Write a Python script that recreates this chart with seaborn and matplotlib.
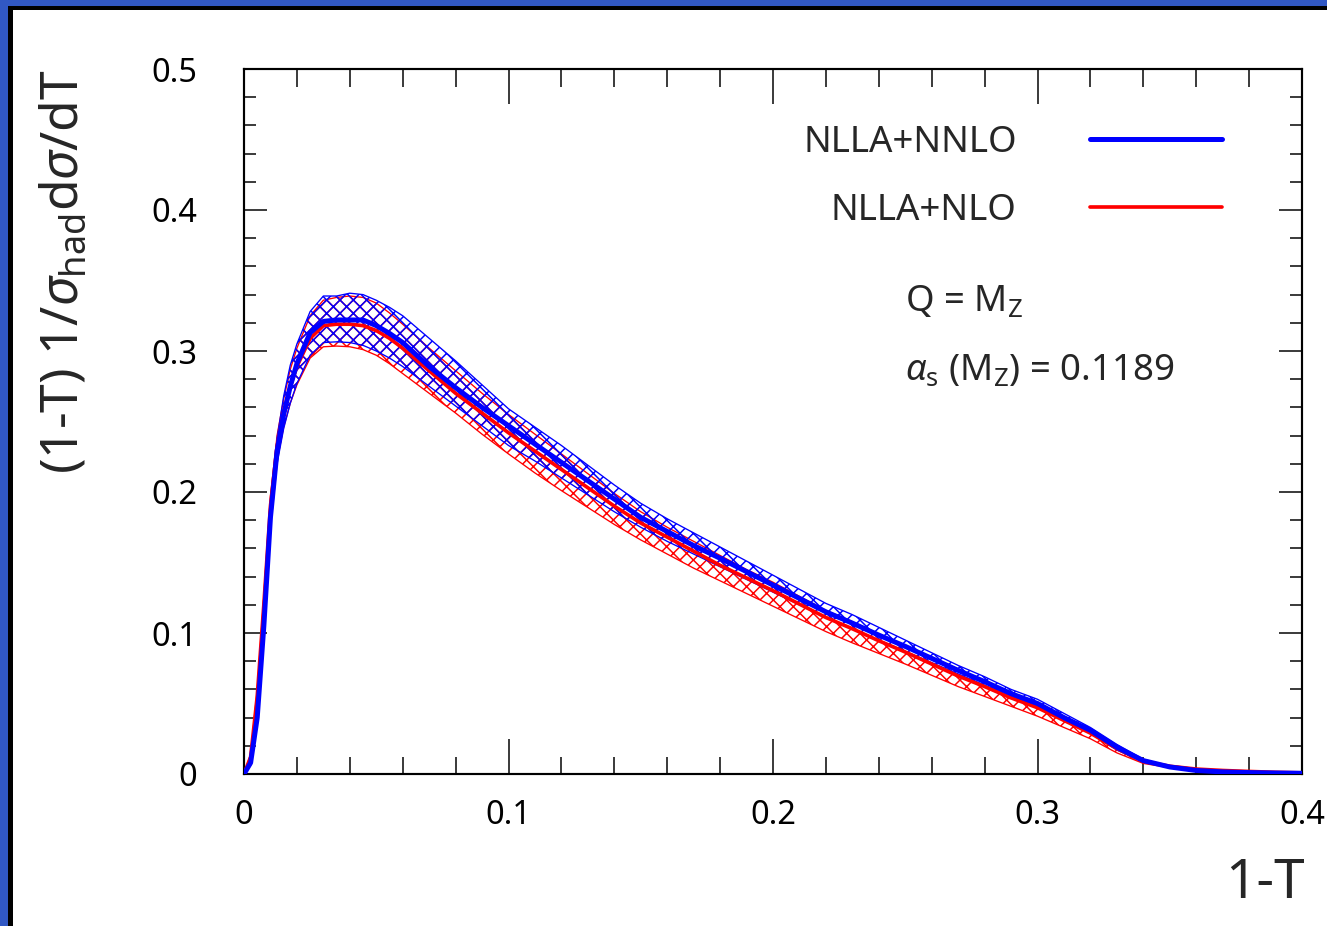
import numpy as np
import pandas as pd
import matplotlib
matplotlib.use("Agg")
import matplotlib.pyplot as plt
from matplotlib.patches import Rectangle
from matplotlib.ticker import MultipleLocator, FixedLocator, FixedFormatter
import seaborn as sns

# ---- thrust distribution, (1-T) weighted -------------------------------
tau = [0, 0.0025, 0.005, 0.0075, 0.01, 0.0125, 0.015, 0.0175, 0.02, 0.025,
       0.03, 0.035, 0.04, 0.045, 0.05, 0.055, 0.06, 0.07, 0.08, 0.09,
       0.10, 0.11, 0.12, 0.13, 0.14, 0.15, 0.16, 0.17, 0.18, 0.19,
       0.20, 0.21, 0.22, 0.23, 0.24, 0.25, 0.26, 0.27, 0.28, 0.29,
       0.30, 0.31, 0.32, 0.33, 0.34, 0.35, 0.36, 0.37, 0.38, 0.39, 0.40]

# NLLA+NNLO central value and scale-variation band
nnlo = [0, 0.008, 0.040, 0.105, 0.182, 0.229, 0.255, 0.275, 0.291, 0.313,
        0.321, 0.322, 0.322, 0.322, 0.318, 0.3125, 0.306, 0.289, 0.274, 0.260,
        0.247, 0.234, 0.221, 0.208, 0.195, 0.182, 0.172, 0.162, 0.153, 0.1435,
        0.134, 0.1245, 0.115, 0.107, 0.0985, 0.0905, 0.082, 0.0735, 0.0655, 0.057,
        0.050, 0.040, 0.031, 0.019, 0.0095, 0.005, 0.0025, 0.0015, 0.001, 0.0007, 0.0005]
nnlo_hi = [0, 0.010, 0.045, 0.112, 0.190, 0.238, 0.268, 0.290, 0.305, 0.328,
           0.339, 0.339, 0.341, 0.340, 0.336, 0.331, 0.325, 0.309, 0.293, 0.276,
           0.259, 0.246, 0.233, 0.219, 0.205, 0.192, 0.181, 0.171, 0.161, 0.151,
           0.141, 0.131, 0.121, 0.113, 0.104, 0.095, 0.086, 0.077, 0.069, 0.060,
           0.053, 0.043, 0.033, 0.021, 0.0105, 0.0055, 0.003, 0.0017, 0.0011, 0.0008, 0.0006]
nnlo_lo = [0, 0.006, 0.035, 0.098, 0.174, 0.220, 0.245, 0.263, 0.277, 0.297,
           0.306, 0.3065, 0.306, 0.304, 0.300, 0.295, 0.289, 0.275, 0.261, 0.247,
           0.233, 0.222, 0.210, 0.198, 0.186, 0.175, 0.165, 0.156, 0.147, 0.138,
           0.129, 0.120, 0.111, 0.103, 0.095, 0.087, 0.079, 0.071, 0.063, 0.055,
           0.048, 0.038, 0.029, 0.017, 0.0085, 0.0045, 0.0022, 0.0013, 0.0009, 0.0006, 0.0004]

# NLLA+NLO central value and scale-variation band
nlo = [0, 0.012, 0.055, 0.120, 0.190, 0.232, 0.257, 0.275, 0.289, 0.309,
       0.318, 0.319, 0.319, 0.318, 0.3145, 0.309, 0.302, 0.286, 0.270, 0.256,
       0.242, 0.229, 0.216, 0.203, 0.190, 0.178, 0.168, 0.158, 0.148, 0.139,
       0.130, 0.1205, 0.111, 0.103, 0.0945, 0.0865, 0.078, 0.0695, 0.062, 0.054,
       0.047, 0.038, 0.029, 0.018, 0.009, 0.0055, 0.0035, 0.0025, 0.0018, 0.0012, 0.0008]
nlo_hi = [0, 0.014, 0.060, 0.126, 0.197, 0.240, 0.266, 0.287, 0.302, 0.325,
          0.336, 0.338, 0.339, 0.338, 0.334, 0.327, 0.319, 0.302, 0.286, 0.270,
          0.255, 0.241, 0.227, 0.213, 0.199, 0.186, 0.175, 0.165, 0.155, 0.145,
          0.136, 0.126, 0.116, 0.108, 0.099, 0.0905, 0.082, 0.073, 0.065, 0.057,
          0.0495, 0.040, 0.031, 0.0195, 0.0098, 0.006, 0.0038, 0.0027, 0.002, 0.0013, 0.0009]
nlo_lo = [0, 0.010, 0.050, 0.113, 0.181, 0.222, 0.246, 0.263, 0.276, 0.295,
          0.303, 0.3035, 0.303, 0.301, 0.297, 0.291, 0.284, 0.270, 0.256, 0.241,
          0.227, 0.2135, 0.201, 0.189, 0.177, 0.166, 0.156, 0.146, 0.137, 0.128,
          0.119, 0.110, 0.101, 0.093, 0.0855, 0.078, 0.070, 0.062, 0.055, 0.048,
          0.041, 0.033, 0.025, 0.015, 0.0075, 0.0045, 0.003, 0.0022, 0.0016, 0.001, 0.0007]

series_labels = ["NLLA+NNLO", "NLLA+NLO"]
x_ticks = [0, 0.1, 0.2, 0.3, 0.4]
x_ticklabels = ["0", "0.1", "0.2", "0.3", "0.4"]
y_ticks = [0, 0.1, 0.2, 0.3, 0.4, 0.5]
y_ticklabels = ["0", "0.1", "0.2", "0.3", "0.4", "0.5"]

df = pd.DataFrame({"tau": tau, "nnlo": nnlo, "nlo": nlo})

# ---- style -------------------------------------------------------------
sns.set_theme(style="ticks")
plt.rcParams["font.family"] = ["Noto Sans", "DejaVu Sans"]
plt.rcParams["mathtext.fontset"] = "custom"
plt.rcParams["mathtext.rm"] = "Noto Sans"
plt.rcParams["mathtext.it"] = "Noto Sans:italic"
plt.rcParams["mathtext.sf"] = "Noto Sans"
plt.rcParams["hatch.linewidth"] = 0.9

DPI = 120
W, H = 1327, 926
fig = plt.figure(figsize=(W / DPI, H / DPI), dpi=DPI, facecolor="white")

# outer frame: blue border, black rule, white canvas
def px_rect(x0, y0, x1, y1, color, z):
    fig.add_artist(Rectangle((x0 / W, 1 - y1 / H), (x1 - x0) / W, (y1 - y0) / H,
                             transform=fig.transFigure, facecolor=color,
                             edgecolor="none", zorder=z))

px_rect(0, 0, W + 5, H + 5, "#3158c4", -10)
px_rect(8.3, 5.7, W + 5, H + 5, "black", -9)
px_rect(12.7, 9.6, W + 5, H + 5, "white", -8)

ax = fig.add_axes([244 / W, 1 - 774 / H, (1302 - 244) / W, (774 - 69) / H])
ax.set_facecolor("white")

blue = "#0000ff"
red = "#ff0000"

# uncertainty bands (cross-hatched)
ax.fill_between(tau, nlo_lo, nlo_hi, facecolor="none", edgecolor=red,
                hatch="xxx", linewidth=0.8, zorder=2)
ax.fill_between(tau, nnlo_lo, nnlo_hi, facecolor="none", edgecolor=blue,
                hatch="xxx", linewidth=0.8, zorder=3)

# central predictions
sns.lineplot(data=df, x="tau", y="nlo", color=red, linewidth=2.2,
             sort=False, estimator=None, ax=ax, zorder=4, label=series_labels[1])
sns.lineplot(data=df, x="tau", y="nnlo", color=blue, linewidth=3.0,
             sort=False, estimator=None, ax=ax, zorder=5, label=series_labels[0])

ax.set_xlim(0, 0.4)
ax.set_ylim(0, 0.5)

ax.xaxis.set_major_locator(FixedLocator(x_ticks))
ax.xaxis.set_major_formatter(FixedFormatter(x_ticklabels))
ax.yaxis.set_major_locator(FixedLocator(y_ticks))
ax.yaxis.set_major_formatter(FixedFormatter(y_ticklabels))
ax.xaxis.set_minor_locator(MultipleLocator(0.02))
ax.yaxis.set_minor_locator(MultipleLocator(0.02))

for s in ax.spines.values():
    s.set_visible(True)
    s.set_linewidth(1.3)
    s.set_color("black")

ax.tick_params(axis="both", which="both", direction="in", top=True, right=True,
               color="black", width=0.9, labelsize=19.5, labelcolor="black")
ax.tick_params(axis="x", which="major", length=21, pad=15)
ax.tick_params(axis="x", which="minor", length=10.5)
ax.tick_params(axis="y", which="major", length=14, pad=28)
ax.tick_params(axis="y", which="minor", length=7)

ax.set_ylabel(r"(1-T) 1/$\sigma_{\rm had}$d$\sigma$/dT", fontsize=31, loc="top")
ax.yaxis.set_label_coords(-0.146, 1.0)
ax.set_xlabel("1-T", fontsize=33, loc="right")
ax.xaxis.set_label_coords(1.003, -0.117)

# legend: label first, line on the right
handles, labels = ax.get_legend_handles_labels()
order = [labels.index(series_labels[0]), labels.index(series_labels[1])]
leg = ax.legend([handles[i] for i in order], [labels[i] for i in order],
                loc="upper right", bbox_to_anchor=((1222 - 244) / 1058, (774 - 125) / 705),
                markerfirst=False, frameon=False, fontsize=22,
                handlelength=3.6, handletextpad=2.0, labelspacing=0.88,
                borderpad=0, borderaxespad=0)

ax.text((905 - 244) / 1058, (774 - 311) / 705, r"Q = M$_{\rm Z}$",
        transform=ax.transAxes, fontsize=22, ha="left", va="baseline")
ax.text((905 - 244) / 1058, (774 - 380) / 705, r"$\alpha_{\rm s}$ (M$_{\rm Z}$) = 0.1189",
        transform=ax.transAxes, fontsize=22, ha="left", va="baseline")

fig.savefig("out.png", dpi=DPI, facecolor="white")
